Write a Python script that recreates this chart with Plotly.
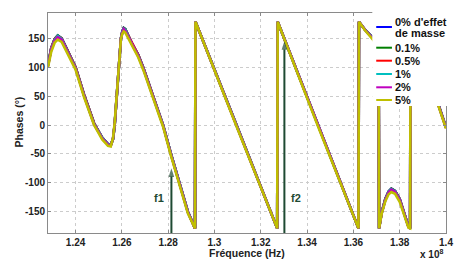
import plotly.graph_objects as go

# ---------------- data (frequency in units of 1e8 Hz, phase in degrees) ----------------
freq = [
    1.2281, 1.2295, 1.2310, 1.2323, 1.2340, 1.2365, 1.2400, 1.2437, 1.2480, 1.2515,
    1.2540, 1.2552, 1.2562, 1.2569, 1.2578, 1.2586, 1.2596, 1.2602, 1.2608, 1.2615, 1.2625, 1.2645,
    1.2671, 1.2693, 1.2735, 1.2778, 1.2812, 1.2850, 1.2885, 1.2916, 1.2918, 1.3095,
    1.3271, 1.3273, 1.3447, 1.3622, 1.3624, 1.3650, 1.3679, 1.3709, 1.3711, 1.3722,
    1.3738, 1.3752, 1.3764, 1.3780, 1.3800, 1.3820, 1.3838, 1.3845, 1.3847, 1.3910,
    1.3977, 1.4000]

phase_0 = [
    104, 133, 149, 155, 150, 130, 100, 52, 3, -22,
    -33, -35, -24, 0, 50, 100, 150, 162, 168, 166, 157, 140,
    121, 99, 50, 0, -50, -100, -150, -179, 179, 0,
    -179, 179, 0, -179, 179, 165, 153, 138, -179, -152,
    -128, -115, -110, -114, -128, -152, -176, -179, 179, 104,
    23, -4]
phase_01 = [
    104, 133, 149, 155, 150, 130, 100, 52, 3, -22,
    -33, -35, -24, 0, 50, 100, 150, 162, 168, 166, 157, 140,
    121, 99, 50, 0, -50, -100, -150, -179, 179, 0,
    -179, 179, 0, -179, 179, 165, 153, 138, -179, -152,
    -128, -115, -110, -114, -128, -152, -176, -179, 179, 104,
    23, -4]
phase_05 = [
    103, 133, 149, 154, 150, 130, 100, 52, 3, -22,
    -33, -35, -24, 0, 50, 100, 150, 161, 167, 165, 157, 140,
    121, 99, 50, 0, -50, -100, -150, -179, 179, 0,
    -179, 179, 0, -179, 179, 165, 153, 138, -179, -152,
    -128, -116, -111, -115, -128, -152, -176, -179, 179, 104,
    23, -4]
phase_1 = [
    103, 132, 148, 154, 149, 129, 99, 51, 2, -22,
    -33, -35, -24, 1, 51, 101, 150, 161, 167, 165, 156, 139,
    120, 98, 49, 0, -50, -100, -150, -179, 179, 0,
    -179, 179, 0, -179, 179, 165, 153, 138, -179, -152,
    -129, -116, -111, -115, -129, -153, -176, -179, 179, 104,
    23, -4]
phase_2 = [
    102, 131, 146, 152, 148, 128, 98, 50, 1, -23,
    -34, -36, -23, 2, 53, 102, 150, 160, 166, 163, 155, 138,
    119, 97, 48, -1, -51, -101, -151, -179, 179, -1,
    -179, 179, -1, -179, 179, 165, 152, 137, -179, -153,
    -130, -117, -112, -116, -130, -154, -177, -179, 179, 103,
    22, -5]
phase_5 = [
    100, 127, 143, 148, 144, 125, 96, 48, 0, -25,
    -36, -37, -22, 4, 56, 104, 149, 158, 162, 160, 152, 135,
    117, 95, 46, -3, -53, -103, -153, -179, 179, -2,
    -179, 179, -2, -179, 179, 164, 151, 136, -179, -154,
    -132, -120, -116, -119, -133, -156, -178, -179, 179, 102,
    21, -6]

series_names = ["0% d'effet|de masse", "0.1%", "0.5%", "1%", "2%", "5%"]
series_values = [phase_0, phase_01, phase_05, phase_1, phase_2, phase_5]
series_colors = ["#0000ff", "#007f00", "#ff0000", "#00bfbf", "#bf00bf", "#bfbf00"]

x_tickvals = [1.24, 1.26, 1.28, 1.30, 1.32, 1.34, 1.36, 1.38, 1.40]
x_ticktext = ["1.24", "1.26", "1.28", "1.3", "1.32", "1.34", "1.36", "1.38", "1.4"]
y_tickvals = [-150, -100, -50, 0, 50, 100, 150]
y_ticktext = ["-150", "-100", "-50", "0", "50", "100", "150"]

marker_freqs = [1.2814, 1.3302]
marker_tips = [-75, 145]
marker_labels = ["f1", "f2"]
marker_label_x = [1.2760, 1.3352]
marker_label_y = [-127, -127]

# ---------------- figure ----------------
W, H = 459, 260
ML, MR, MT, MB = 48, 6, 13, 27
PW, PH = W - ML - MR, H - MT - MB
FONT = "Liberation Sans, Arial, sans-serif"
ARROW = "#1e4a32"
YMIN, YMAX = -187, 194


def px(x):
    return (x - ML) / PW


def py(y):
    return (H - MB - y) / PH


fig = go.Figure()
for name, vals, col in zip(series_names, series_values, series_colors):
    fig.add_trace(go.Scatter(x=freq, y=vals, mode="lines", name=name.replace("|", " "),
                             line=dict(color=col, width=2.6), showlegend=False,
                             hoverinfo="skip"))

# resonance markers (arrow shafts with arrow heads)
for fx, tip in zip(marker_freqs, marker_tips):
    fig.add_trace(go.Scatter(x=[fx, fx], y=[YMIN, tip], mode="lines+markers",
                             line=dict(color=ARROW, width=2),
                             marker=dict(symbol="arrow", angleref="previous", size=[0, 9],
                                         color=ARROW, line=dict(width=0)),
                             showlegend=False, hoverinfo="skip", cliponaxis=False))

axis_common = dict(showgrid=True, gridcolor="#cccccc", griddash="dot", gridwidth=1,
                   zeroline=False, showline=True, mirror="ticks", linecolor="#8a8a8a",
                   linewidth=1, ticks="inside", ticklen=3, tickcolor="#8a8a8a",
                   ticklabeloverflow="allow",
                   tickfont=dict(family=FONT, size=10, color="#222", weight="bold"))

fig.update_xaxes(range=[1.2281, 1.4], tickvals=x_tickvals, ticktext=x_ticktext, **axis_common)
fig.update_yaxes(range=[YMIN, YMAX], tickvals=y_tickvals, ticktext=y_ticktext, **axis_common)

shapes = []
annotations = []

# legend (manual, drawn over the plot's top-right corner)
shapes.append(dict(type="rect", xref="paper", yref="paper", x0=px(378), x1=px(460),
                   y0=py(106), y1=py(11), fillcolor="white", line=dict(width=0), layer="above"))
row_y = [27, 47.7, 60.7, 74, 87.3, 100]
for i, (name, col) in enumerate(zip(series_names, series_colors)):
    shapes.append(dict(type="line", xref="paper", yref="paper", x0=px(382), x1=px(398),
                       y0=py(row_y[i]), y1=py(row_y[i]), line=dict(color=col, width=2),
                       layer="above"))
    parts = name.split("|")
    if len(parts) == 2:
        text_rows = [(parts[0], 21.7), (parts[1], 33.3)]
    else:
        text_rows = [(parts[0], row_y[i])]
    for t, yy in text_rows:
        annotations.append(dict(xref="paper", yref="paper", x=px(399), y=py(yy), text=t,
                                showarrow=False, xanchor="left", yanchor="middle",
                                font=dict(family=FONT, size=11, color="#111", weight="bold")))

for lab, lx, ly in zip(marker_labels, marker_label_x, marker_label_y):
    annotations.append(dict(xref="x", yref="y", x=lx, y=ly, text=lab, showarrow=False,
                            font=dict(family=FONT, size=11, color=ARROW, weight="bold")))

# axis titles
annotations.append(dict(xref="paper", yref="paper", x=px(250), y=py(252.5), text="Fréquence (Hz)",
                        showarrow=False, xanchor="center", yanchor="middle",
                        font=dict(family=FONT, size=10.5, color="#222", weight="bold")))
annotations.append(dict(xref="paper", yref="paper", x=px(18), y=py(122), text="Phases (°)",
                        showarrow=False, xanchor="center", yanchor="middle", textangle=-90,
                        font=dict(family=FONT, size=10.5, color="#222", weight="bold")))
annotations.append(dict(xref="paper", yref="paper", x=px(438), y=py(254), text="x 10<sup>8</sup>",
                        showarrow=False, xanchor="center", yanchor="middle",
                        font=dict(family=FONT, size=10, color="#222", weight="bold")))

fig.update_layout(width=W, height=H, margin=dict(l=ML, r=MR, t=MT, b=MB, pad=0),
                  paper_bgcolor="white", plot_bgcolor="white", showlegend=False,
                  shapes=shapes, annotations=annotations)

fig.write_html("out.html", config={"displayModeBar": False, "staticPlot": True},
               post_script="document.body.style.margin='0';document.body.style.overflow='hidden';")
